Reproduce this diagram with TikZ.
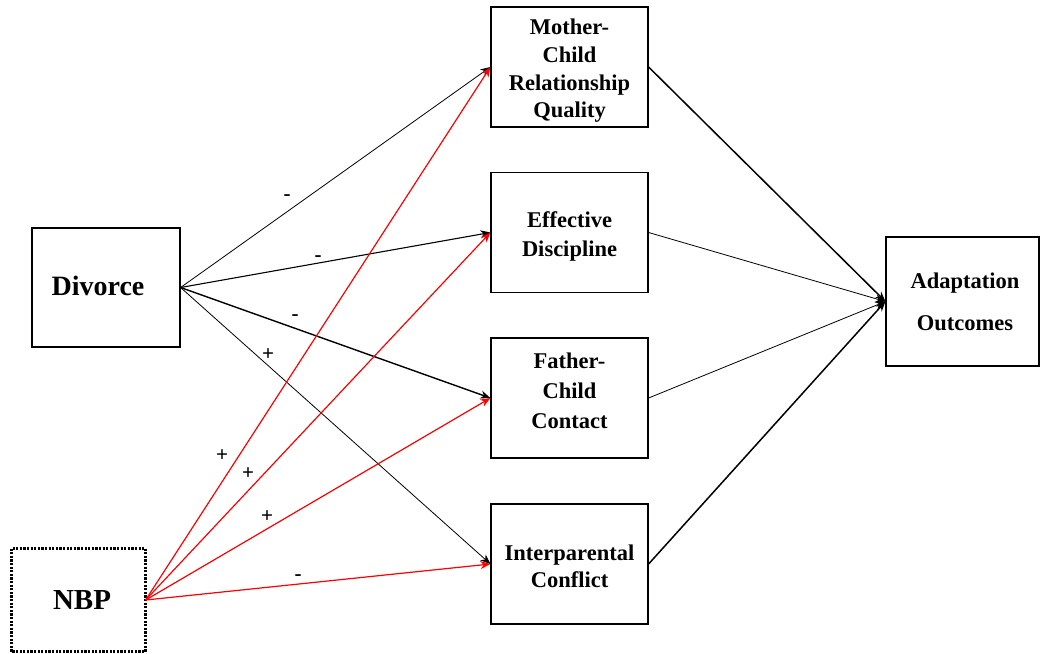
\documentclass[tikz,border=0pt]{standalone}
\usepackage{fontspec}
\setmainfont{Liberation Serif}
\usetikzlibrary{arrows.meta}
\begin{document}
\begin{tikzpicture}[x=1pt,y=-1pt,
  box/.style={draw,line width=1.2pt,minimum width=157pt,minimum height=120pt,inner sep=0pt},
  txt/.style={align=center,inner sep=0pt,font=\fontsize{22.5}{#1}\selectfont\bfseries},
  txt/.default=28.5,
  bigtxt/.style={inner sep=0pt,font=\fontsize{28}{32}\selectfont\bfseries},
  arr/.style={-{Stealth[length=10pt,width=8pt]},line width=#1},
  arr/.default=0.9pt,
  redarr/.style={-{Stealth[length=10pt,width=8pt]},line width=1.2pt,red},
  sign/.style={font=\fontsize{21}{21}\selectfont\bfseries,inner sep=0pt}
]
\useasboundingbox (0,0) rectangle (1040,653);
\node[box,minimum width=148pt,minimum height=119pt] (div) at (106,287.5) {};
\node[bigtxt] (divt) at (98,286) {Divorce};
\node[box,minimum width=133pt,minimum height=102pt,draw=none] (nbp) at (78.5,600) {};
\node[bigtxt,font=\fontsize{29}{32}\selectfont\bfseries] (nbpt) at (82,600) {NBP};
\draw[line width=2.4pt,dash pattern=on 2.2pt off 1.4pt] (nbp.south west) rectangle (nbp.north east);
\node[box] (mc) at (569.5,67) {};
\node[txt=27.7] (mct) at (569.5,71) {Mother-\\Child\\Relationship\\Quality};
\node[box] (ed) at (569.5,232.5) {};
\node[txt=29] (edt) at (569.5,236) {Effective\\Discipline};
\node[box] (fc) at (569.5,398) {};
\node[txt=30] (fct) at (569.5,391) {Father-\\Child\\Contact};
\node[box] (ic) at (569.5,564) {};
\node[txt=27] (ict) at (569.5,566) {Interparental\\Conflict};
\node[box,minimum width=153pt,minimum height=129pt] (ao) at (962.5,301.5) {};
\node[txt] (aot) at (965,302) {Adaptation\\[13pt]Outcomes};

\draw[arr=0.8pt] (div.east) -- (mc.west);
\draw[arr=1.1pt] (div.east) -- (ed.west);
\draw[arr=1.4pt] (div.east) -- (fc.west);
\draw[arr=0.8pt] (div.east) -- (ic.west);

\draw[redarr] (nbp.east) -- (mc.west);
\draw[redarr] (nbp.east) -- (ed.west);
\draw[redarr] (nbp.east) -- (fc.west);
\draw[redarr] (nbp.east) -- (ic.west);

\draw[arr=1.5pt] (mc.east) -- (ao.west);
\draw[arr=0.8pt] (ed.east) -- (ao.west);
\draw[arr=0.8pt] (fc.east) -- (ao.west);
\draw[arr=1.5pt] (ic.east) -- (ao.west);

\node[sign] (s1) at (287,198) {-};
\node[sign] (s2) at (318,259) {-};
\node[sign] (s3) at (295,318) {-};
\node[sign] (s4) at (268,355) {+};
\node[sign] (s5) at (222,456) {+};
\node[sign] (s6) at (248,474) {+};
\node[sign] (s7) at (267,517) {+};
\node[sign] (s8) at (298,578) {-};
\end{tikzpicture}
\end{document}
